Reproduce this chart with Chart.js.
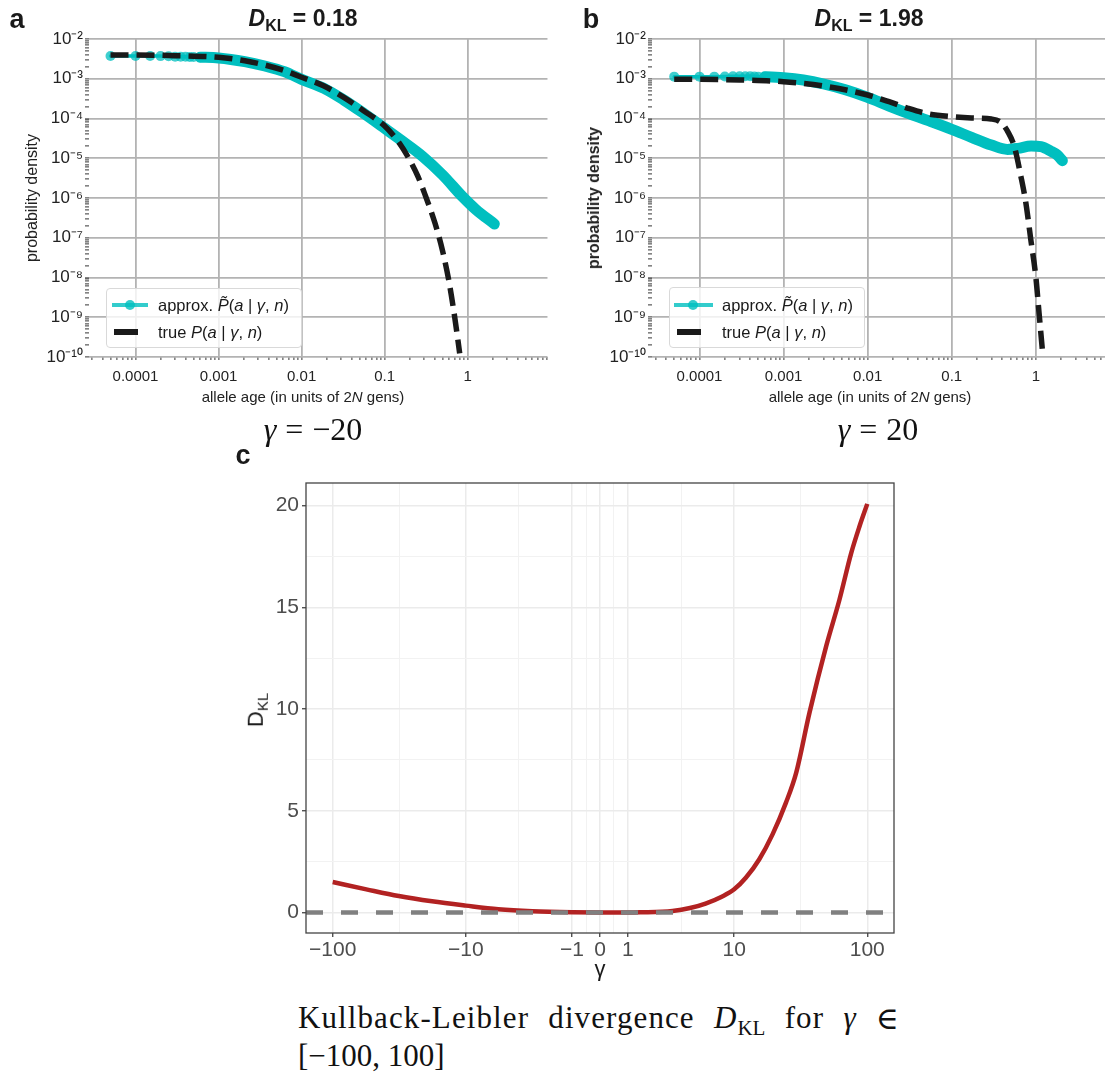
<!DOCTYPE html>
<html>
<head>
<meta charset="utf-8">
<script src="https://cdn.jsdelivr.net/npm/chart.js@4.4.1/dist/chart.umd.min.js"></script>
<style>
  body { margin: 0; background: #fff; }
  #fig { position: relative; width: 1110px; height: 1082px; overflow: hidden; font-family: "Liberation Sans", Arial, sans-serif; color: #1a1a1a; }
  canvas { position: absolute; }
  .lbl { position: absolute; transform: translate(-50%, -50%); white-space: nowrap; }
  .rot { transform: translate(-50%, -50%) rotate(-90deg); }
  .letter { font-weight: bold; font-size: 27px; }
  .title { font-weight: bold; font-size: 23px; }
  .title sub { font-size: 16px; vertical-align: -5px; }
  .axt { font-size: 15px; color: #222; }
  .serif { font-family: "Liberation Serif", "DejaVu Serif", serif; font-size: 31px; color: #111; }
  .legend { position: absolute; border: 1px solid #d9d9d9; border-radius: 4px; background: rgba(255,255,255,0.8); font-size: 16.5px; }
  .legend .row { position: absolute; left: 0; right: 0; height: 20px; }
  .legend .txt { position: absolute; top: 50%; transform: translateY(-50%); white-space: nowrap; }
  .legend .ln { position: absolute; top: 50%; height: 4px; margin-top: -2px; background: rgba(0,191,191,0.8); }
  .legend .dot { position: absolute; top: 50%; width: 10px; height: 10px; margin: -5px 0 0 -5px; border-radius: 50%; background: rgba(0,191,191,0.8); }
  .legend .bar { position: absolute; top: 50%; height: 6px; margin-top: -3px; background: #1a1a1a; }
</style>
</head>
<body>
<div id="fig">
  <canvas id="chartA" width="555" height="420" style="left:0;top:0"></canvas>
  <canvas id="chartB" width="555" height="420" style="left:555px;top:0"></canvas>
  <canvas id="chartC" width="680" height="540" style="left:230px;top:460px"></canvas>

  <div class="lbl letter" style="left:17px;top:19px">a</div>
  <div class="lbl letter" style="left:591px;top:19px">b</div>
  <div class="lbl letter" style="left:243px;top:455px">c</div>

  <div class="lbl title" style="left:303px;top:20px"><i>D</i><sub>KL</sub> = 0.18</div>
  <div class="lbl title" style="left:869px;top:20px"><i>D</i><sub>KL</sub> = 1.98</div>

  <div class="lbl axt rot" style="left:32px;top:198px;font-size:16px">probability density</div>
  <div class="lbl axt rot" style="left:594px;top:198px;font-size:16px;font-weight:bold">probability density</div>
  <div class="lbl axt" style="left:303px;top:396px">allele age (in units of 2<i>N</i> gens)</div>
  <div class="lbl axt" style="left:870px;top:396px">allele age (in units of 2<i>N</i> gens)</div>

  <div class="legend" style="left:106px;top:288px;width:194px;height:58px">
    <div class="row" style="top:6px"><div class="ln" style="left:5px;width:36px"></div><div class="dot" style="left:23px"></div>
      <div class="txt" style="left:51px">approx. <i>P̃</i>(<i>a</i> | <i>γ</i>, <i>n</i>)</div></div>
    <div class="row" style="top:33px"><div class="bar" style="left:7px;width:24px"></div>
      <div class="txt" style="left:51px">true <i>P</i>(<i>a</i> | <i>γ</i>, <i>n</i>)</div></div>
  </div>
  <div class="legend" style="left:669px;top:287px;width:194px;height:59px">
    <div class="row" style="top:7px"><div class="ln" style="left:4px;width:39px"></div><div class="dot" style="left:23px"></div>
      <div class="txt" style="left:52px">approx. <i>P̃</i>(<i>a</i> | <i>γ</i>, <i>n</i>)</div></div>
    <div class="row" style="top:34px"><div class="bar" style="left:7px;width:24px"></div>
      <div class="txt" style="left:52px">true <i>P</i>(<i>a</i> | <i>γ</i>, <i>n</i>)</div></div>
  </div>

  <div class="lbl serif" style="left:313px;top:429px;font-size:32px"><i>γ</i><span style="padding:0 9px">=</span>−20</div>
  <div class="lbl serif" style="left:878px;top:429px;font-size:32px"><i>γ</i><span style="padding:0 9px">=</span>20</div>

  <div class="lbl" style="left:600px;top:969px;font-size:22px">γ</div>
  <div class="lbl rot" style="left:257px;top:710px;font-size:22px">D<sub style="font-size:15px">KL</sub></div>

  <div class="serif" style="position:absolute;left:298px;top:1000px;width:602px;display:flex;justify-content:space-between;letter-spacing:1.1px">
    <span>Kullback-Leibler</span><span>divergence</span><span><i>D</i><sub style="font-size:21px;letter-spacing:0">KL</sub></span><span>for</span><span><i>γ</i></span><span>∈</span>
  </div>
  <div class="serif" style="position:absolute;left:298px;top:1038px">[−100, 100]</div>
</div>

<script>
// panel a (gamma = -20)
const ageApproxA = [5e-5, 1e-4, 1.5e-4, 2e-4, 2.5e-4, 3e-4, 3.5e-4, 4e-4, 4.5e-4, 5e-4, 6e-4, 1e-3, 2.07e-3, 3.6e-3, 6.2e-3, 1e-2, 1.86e-2, 3.22e-2, 5.57e-2, 0.1, 0.167, 0.288, 0.499, 0.865, 1.245, 2.09];
const densApproxA = [3.73e-3, 3.73e-3, 3.72e-3, 3.71e-3, 3.69e-3, 3.6e-3, 3.58e-3, 3.56e-3, 3.54e-3, 3.52e-3, 3.48e-3, 3.33e-3, 2.69e-3, 2.09e-3, 1.51e-3, 9.66e-4, 5.74e-4, 2.92e-4, 1.35e-4, 5.66e-5, 2.61e-5, 1.1e-5, 3.79e-6, 1.08e-6, 5.19e-7, 2.22e-7];
const ageTrueA = [5e-5, 1e-4, 3e-4, 1e-3, 2.07e-3, 3.6e-3, 6.2e-3, 1e-2, 1.86e-2, 3.22e-2, 5.57e-2, 0.1, 0.151, 0.2, 0.252, 0.302, 0.404, 0.5, 0.6, 0.7, 0.8];
const densTrueA = [3.95e-3, 3.95e-3, 3.81e-3, 3.46e-3, 2.85e-3, 2.22e-3, 1.6e-3, 1.09e-3, 6.58e-4, 3.4e-4, 1.57e-4, 6.47e-5, 2.37e-5, 9.03e-6, 3.44e-6, 1.31e-6, 2.31e-7, 4.47e-8, 7.13e-9, 9.4e-10, 1.24e-10];

// panel b (gamma = 20)
const ageApproxB = [5e-5, 1e-4, 1.5e-4, 2e-4, 2.5e-4, 3e-4, 3.5e-4, 4e-4, 4.5e-4, 5e-4, 6e-4, 1e-3, 1.72e-3, 3e-3, 5.56e-3, 1e-2, 1.8e-2, 3.03e-2, 5.3e-2, 0.1, 0.172, 0.296, 0.46, 0.61, 0.88, 1.15, 1.5, 1.8, 2.07];
const densApproxB = [1.13e-3, 1.13e-3, 1.13e-3, 1.14e-3, 1.15e-3, 1.16e-3, 1.16e-3, 1.15e-3, 1.14e-3, 1.13e-3, 1.12e-3, 1.06e-3, 9.31e-4, 7.38e-4, 5.21e-4, 3.4e-4, 2.06e-4, 1.35e-4, 8.83e-5, 5.35e-5, 3.36e-5, 2.15e-5, 1.67e-5, 1.77e-5, 2.03e-5, 1.95e-5, 1.52e-5, 1.21e-5, 8.69e-6];
const ageTrueB = [5e-5, 1e-4, 3e-4, 1e-3, 3e-3, 1e-2, 1.8e-2, 3.03e-2, 5.3e-2, 0.1, 0.172, 0.296, 0.388, 0.464, 0.556, 0.666, 0.763, 0.873, 1.0, 1.094, 1.197];
const densTrueB = [9.66e-4, 9.66e-4, 9.31e-4, 8.45e-4, 6.58e-4, 3.9e-4, 2.65e-4, 1.8e-4, 1.3e-4, 1.11e-4, 1.03e-4, 9.7e-5, 7.85e-5, 4.67e-5, 1.95e-5, 3.44e-6, 7.35e-7, 8.77e-8, 1.05e-8, 1.25e-9, 1.5e-10];

// tick labels for a and b
const ageTickValues = [1e-4, 1e-3, 1e-2, 1e-1, 1];
const ageTickLabels = ['0.0001', '0.001', '0.01', '0.1', '1'];
const densityTickValues = [1e-10, 1e-9, 1e-8, 1e-7, 1e-6, 1e-5, 1e-4, 1e-3, 1e-2];
const densityTickLabels = ['10⁻¹⁰', '10⁻⁹', '10⁻⁸', '10⁻⁷', '10⁻⁶', '10⁻⁵', '10⁻⁴', '10⁻³', '10⁻²'];

// panel c
const gammaValues = [-100, -56, -32, -18, -10, -5.6, -2.9, -1, 0, 1, 1.5, 3.2, 4.5, 6, 8.1, 10, 12.3, 15.5, 19.5, 24.6, 29.3, 36.9, 49.2, 61.9, 75.8, 87.4, 100];
const klValues = [1.5, 1.14, 0.81, 0.55, 0.34, 0.16, 0.06, 0.01, 0, 0, 0.01, 0.08, 0.22, 0.44, 0.79, 1.14, 1.72, 2.62, 3.84, 5.4, 6.85, 9.81, 13.08, 15.37, 17.66, 18.97, 20.08];
const gammaTickValues = [-100, -10, -1, 0, 1, 10, 100];
const gammaTickLabels = ['−100', '−10', '−1', '0', '1', '10', '100'];
const klTickValues = [0, 5, 10, 15, 20];
const klTickLabels = ['0', '5', '10', '15', '20'];
const klBaseline = 0;

const SANS = "'Liberation Sans', Arial, sans-serif";
const TEAL = 'rgb(0, 191, 191)';

function toPoints(xs, ys) {
  return xs.map((x, i) => ({ x: x, y: ys[i] }));
}

// decade ticks (labelled) plus 2..9 minor ticks
function logTicks(min, max) {
  const out = [];
  for (let e = Math.floor(Math.log10(min)); e <= Math.ceil(Math.log10(max)); e++) {
    for (let m = 1; m <= 9; m++) {
      const v = m * Math.pow(10, e);
      if (v >= min * 0.9999 && v <= max * 1.0001) out.push({ value: v, major: m === 1 });
    }
  }
  return out;
}

function logLabel(v, values, labels) {
  const i = values.findIndex(t => Math.abs(Math.log10(t) - Math.log10(v)) < 1e-6);
  return i >= 0 ? labels[i] : '';
}

function densityChart(id, approxX, approxY, trueX, trueY, xMin, xMax, yAxisWidth, padRight) {
  const ctx = document.getElementById(id).getContext('2d');
  return new Chart(ctx, {
    type: 'line',
    data: {
      datasets: [{
        label: 'true P(a | γ, n)',
        data: toPoints(trueX, trueY),
        borderColor: '#1a1a1a',
        borderWidth: 5.5,
        borderDash: [18, 8],
        pointRadius: 0,
        cubicInterpolationMode: 'monotone'
      }, {
        label: 'approx. P̃(a | γ, n)',
        data: toPoints(approxX, approxY),
        borderColor: TEAL,
        borderWidth: 3.5,
        segment: {
          borderWidth: c => c.p0.parsed.x >= 5.5e-4 ? 11 : 3.5
        },
        pointRadius: c => (c.raw && c.raw.x < 6.5e-4) ? 5 : 0,
        pointBackgroundColor: 'rgba(0, 191, 191, 0.75)',
        pointBorderWidth: 0,
        borderCapStyle: 'round',
        borderJoinStyle: 'round',
        cubicInterpolationMode: 'monotone'
      }]
    },
    options: {
      responsive: false,
      animation: false,
      layout: { padding: { top: 39, right: padRight, bottom: 0, left: 0 } },
      plugins: { legend: { display: false }, tooltip: { enabled: false } },
      scales: {
        x: {
          type: 'logarithmic',
          min: xMin,
          max: xMax,
          afterBuildTicks: s => { s.ticks = logTicks(s.min, s.max); },
          afterFit: s => { s.height = 63; },
          border: { display: false },
          grid: {
            color: c => (c.tick && c.tick.major) ? '#b3b3b3' : 'rgba(0,0,0,0)',
            lineWidth: 1.8,
            tickColor: '#333',
            tickWidth: 1,
            tickLength: c => (c.tick && c.tick.major) ? 5 : 3
          },
          ticks: {
            autoSkip: false,
            maxRotation: 0,
            padding: 8,
            color: '#222',
            font: { family: SANS, size: 15 },
            callback: (v, i, ticks) => ticks[i].major ? logLabel(v, ageTickValues, ageTickLabels) : ''
          }
        },
        y: {
          type: 'logarithmic',
          min: 1e-10,
          max: 1e-2,
          afterBuildTicks: s => { s.ticks = logTicks(s.min, s.max); },
          afterFit: s => { s.width = yAxisWidth; },
          border: { display: false },
          grid: {
            color: c => (c.tick && c.tick.major) ? '#b3b3b3' : 'rgba(0,0,0,0)',
            lineWidth: 1.8,
            tickColor: '#333',
            tickWidth: 1,
            tickLength: 4
          },
          ticks: {
            autoSkip: false,
            padding: 2,
            color: '#222',
            font: { family: SANS, size: 17 },
            callback: (v, i, ticks) => ticks[i].major ? logLabel(v, densityTickValues, densityTickLabels) : ''
          }
        }
      }
    }
  });
}

densityChart('chartA', ageApproxA, densApproxA, ageTrueA, densTrueA, Math.pow(10, -4.56), Math.pow(10, 0.96), 89, 2);
densityChart('chartB', ageApproxB, densApproxB, ageTrueB, densTrueB, Math.pow(10, -4.565), Math.pow(10, 0.823), 97, 0);

// panel c: pseudo-log x axis (asinh(x / 2)), as in ggplot's pseudo_log_trans
const pseudoLog = g => Math.asinh(g / 2);
const uMajor = gammaTickValues.map(pseudoLog);
const uTicks = [];
uMajor.forEach((u, i) => {
  uTicks.push({ value: u, major: true, label: gammaTickLabels[i] });
  if (i < uMajor.length - 1) uTicks.push({ value: (u + uMajor[i + 1]) / 2, major: false, label: '' });
});
const uLimit = pseudoLog(100) * 1.1;

const panelBorder = {
  id: 'panelBorder',
  afterDraw(chart) {
    const { ctx, chartArea: a } = chart;
    ctx.save();
    ctx.strokeStyle = '#444';
    ctx.lineWidth = 1.3;
    ctx.strokeRect(a.left, a.top, a.right - a.left, a.bottom - a.top);
    ctx.restore();
  }
};

new Chart(document.getElementById('chartC').getContext('2d'), {
  type: 'line',
  data: {
    datasets: [{
      label: 'zero',
      data: [{ x: -uLimit, y: klBaseline }, { x: uLimit, y: klBaseline }],
      borderColor: '#808080',
      borderWidth: 4.5,
      borderDash: [17, 18],
      pointRadius: 0
    }, {
      label: 'D_KL',
      data: gammaValues.map((g, i) => ({ x: pseudoLog(g), y: klValues[i] })),
      borderColor: '#b22222',
      borderWidth: 4.5,
      pointRadius: 0,
      cubicInterpolationMode: 'monotone'
    }]
  },
  plugins: [panelBorder],
  options: {
    responsive: false,
    animation: false,
    layout: { padding: { top: 23, right: 16, bottom: 0, left: 0 } },
    plugins: { legend: { display: false }, tooltip: { enabled: false } },
    scales: {
      x: {
        type: 'linear',
        min: -uLimit,
        max: uLimit,
        afterBuildTicks: s => { s.ticks = uTicks.map(t => ({ ...t })); },
        afterFit: s => { s.height = 67; },
        border: { display: false },
        grid: {
          color: c => (c.tick && c.tick.major) ? '#ebebeb' : '#f2f2f2',
          lineWidth: c => (c.tick && c.tick.major) ? 1.5 : 1,
          tickColor: c => (c.tick && c.tick.major) ? '#333' : 'rgba(0,0,0,0)',
          tickWidth: 1.2,
          tickLength: 4
        },
        ticks: {
          autoSkip: false,
          maxRotation: 0,
          padding: 1,
          color: '#4d4d4d',
          font: { family: SANS, size: 21 },
          callback: (v, i, ticks) => ticks[i].label || ''
        }
      },
      y: {
        type: 'linear',
        min: -1.005,
        max: 21.105,
        afterBuildTicks: s => {
          const t = [];
          for (let v = 0; v <= 20; v += 2.5) t.push({ value: v, major: klTickValues.includes(v) });
          s.ticks = t;
        },
        afterFit: s => { s.width = 76; },
        border: { display: false },
        grid: {
          color: c => (c.tick && c.tick.major) ? '#ebebeb' : '#f2f2f2',
          lineWidth: c => (c.tick && c.tick.major) ? 1.5 : 1,
          tickColor: c => (c.tick && c.tick.major) ? '#333' : 'rgba(0,0,0,0)',
          tickWidth: 1.2,
          tickLength: 4
        },
        ticks: {
          autoSkip: false,
          padding: 3,
          color: '#4d4d4d',
          font: { family: SANS, size: 21 },
          callback: (v, i, ticks) => {
            const k = klTickValues.indexOf(v);
            return ticks[i].major && k >= 0 ? klTickLabels[k] : '';
          }
        }
      }
    }
  }
});
</script>
</body>
</html>
